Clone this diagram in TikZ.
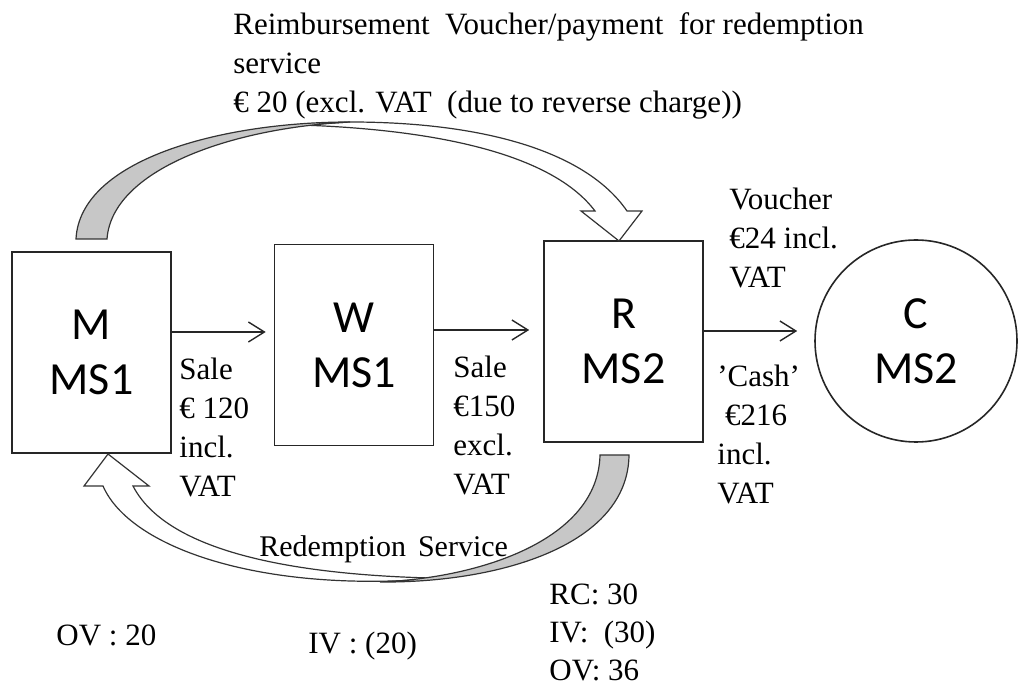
\documentclass[tikz,border=0pt]{standalone}
\usepackage{fontspec}
\setmainfont{Liberation Serif}
\newfontfamily\boxfont{Carlito}
\usepackage{tikz}
\usetikzlibrary{positioning, calc, shapes, arrows.meta}

\tikzset{
  party/.style = {draw=black!85, line width=0.8pt, rectangle, inner sep=0pt,
    minimum width=79.5pt, minimum height=100.5pt, align=center,
    font=\boxfont\fontsize{23}{27.5}\selectfont},
  customer/.style = {party, circle, minimum size=101pt},
  flow/.style = {draw=black!85, line width=0.7pt, -{Straight Barb[length=8pt, width=10pt]}},
  note/.style = {inner sep=0pt, anchor=base west, font=\fontsize{15.5}{19.5}\selectfont},
  frontface/.style = {draw=black!80, line width=0.6pt, fill=white},
  backface/.style = {draw=black!80, line width=0.6pt, fill=black!22}
}

\begin{document}
\begin{tikzpicture}[x=0.5pt, y=-0.5pt]
\useasboundingbox (0,0) rectangle (1021,688);

% parties
\node[party] (M) at (91.5,352.5) {M\\MS1};
\node[party] (W) at (354,345) {W\\MS1};
\node[party] (R) at (623.5,341.5) {R\\MS2};
\node[customer] (C) at (916,341) {C\\MS2};

% sales
\draw[flow, shorten >=4pt] ([yshift=10.25pt]M.east) -- ([yshift=6.5pt]W.west);
\draw[flow, shorten >=7pt] ([yshift=7.5pt]W.east) -- ([yshift=5.75pt]R.west);
\draw[flow, shorten >=8.5pt] ([yshift=5.25pt]R.east) -- ([yshift=5pt]C.west);

% reimbursement, over the top
\draw[frontface] (350,122) .. controls (480,122) and (585,150) .. (627,211)
  -- (642,211) -- (619,241) -- (581,211) -- (595,211)
  .. controls (555,158) and (450,130) .. (300,125) -- cycle;
\draw[backface] (76,239) .. controls (80,160) and (220,122) .. (350,122)
  .. controls (230,128) and (112,170) .. (107,239) -- cycle;

% redemption service, underneath
\draw[frontface] (430,579) .. controls (260,592) and (130,548) .. (103,486)
  -- (84,486) -- (108,454) -- (149,486) -- (133,486)
  .. controls (165,548) and (280,574) .. (430,578) -- cycle;
\draw[backface] (629,455) .. controls (628,545) and (500,583) .. (380,582)
  .. controls (480,578) and (598,540) .. (600,455) -- cycle;

% labels
\node[note] (refund) at (233,35) {\begin{tabular}[t]{@{}l@{}}
  Reimbursement\ \ Voucher/payment\ \ for redemption\\
  service\\
  € 20 (excl. VAT\ \ (due to reverse charge))
\end{tabular}};
\node[note] (sale1) at (179,380) {\begin{tabular}[t]{@{}l@{}}Sale\\€ 120\\incl.\\VAT\end{tabular}};
\node[note] (sale2) at (453,378) {\begin{tabular}[t]{@{}l@{}}Sale\\€150\\excl.\\VAT\end{tabular}};
\node[note] (voucher) at (729,210) {\begin{tabular}[t]{@{}l@{}}Voucher\\€24 incl.\\VAT\end{tabular}};
\node[note] (cash) at (717,387) {\begin{tabular}[t]{@{}l@{}}’Cash’\\\ €216\\incl.\\VAT\end{tabular}};
\node[note, font=\fontsize{15}{19.5}\selectfont] (service) at (259,556) {Redemption\hspace{0.4em}Service};

% VAT positions
\node[note] (vatM) at (56,645) {OV : 20};
\node[note] (vatW) at (308,653) {IV : (20)};
\node[note, font=\fontsize{15.5}{19}\selectfont] (vatR) at (549,604) {\begin{tabular}[t]{@{}l@{}}RC: 30\\IV:\ \ (30)\\OV: 36\end{tabular}};
\end{tikzpicture}
\end{document}
